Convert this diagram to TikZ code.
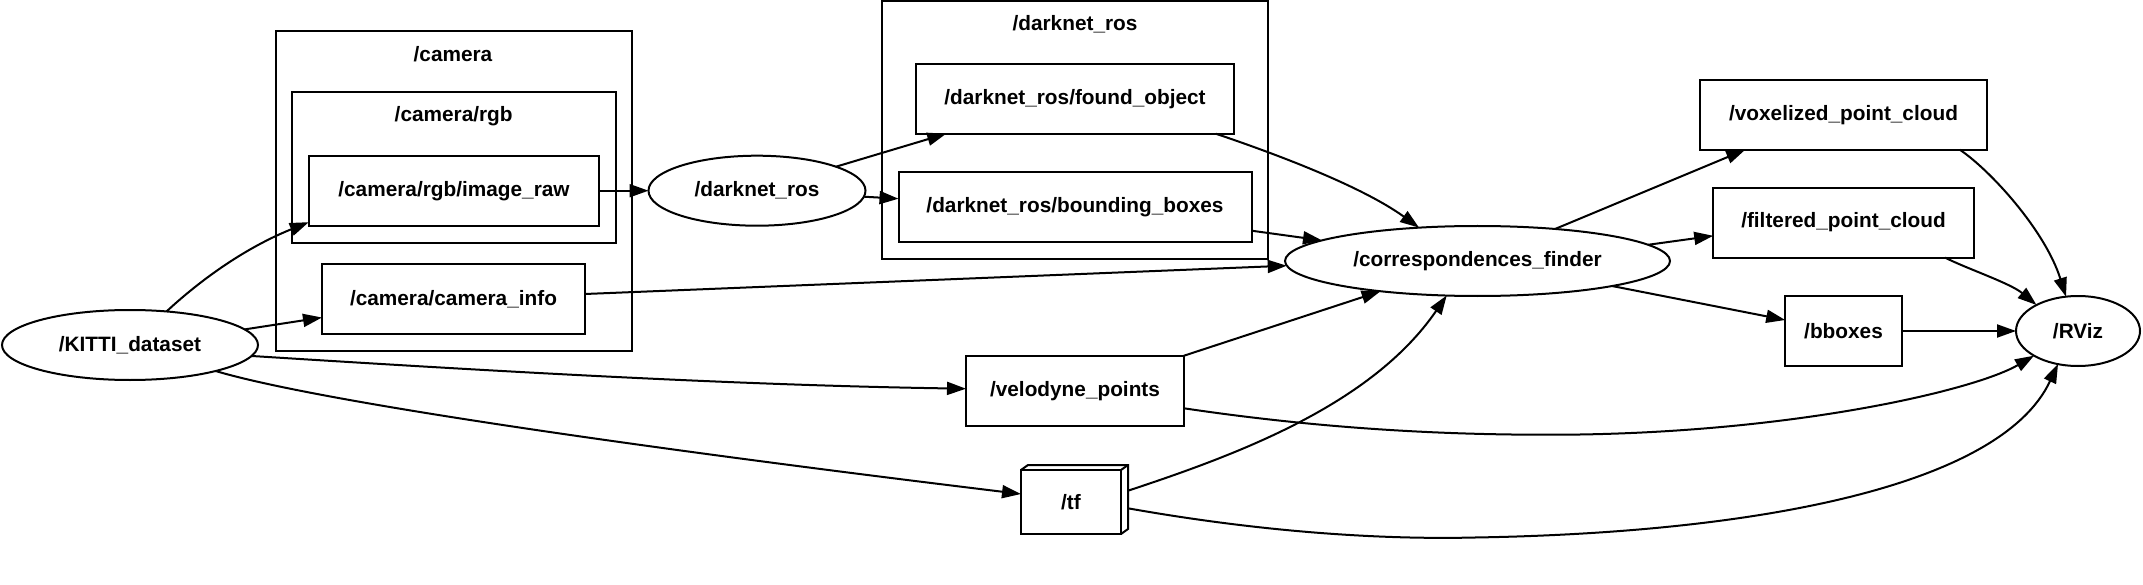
\documentclass[tikz,border=0pt]{standalone}
\usepackage{fontspec}
\setmainfont{Liberation Sans}
\usetikzlibrary{shapes.geometric,arrows.meta,calc}
\begin{document}
\begin{tikzpicture}[x=1pt,y=-1pt,
  every node/.style={font=\fontsize{20.8}{25}\selectfont\bfseries},
  base/.style={draw=black, line width=2pt, inner sep=0pt, outer sep=0pt},
  topic/.style={base, rectangle, minimum height=70pt},
  nodeell/.style={base, ellipse, minimum height=70pt},
  cluster/.style={base, rectangle},
  clabel/.style={inner sep=0pt},
  edge/.style={line width=2pt, -{Triangle[length=19pt,width=13pt]}},
]
\fill[white] (0,0) rectangle (2143,585);
\useasboundingbox (0,0) rectangle (2143,585);

% clusters
\node[cluster, minimum width=356pt, minimum height=320.4pt] (camcl) at (454,190.8) {};
\node[clabel] (camlabel) at (453,54) {/camera};
\node[cluster, minimum width=324.5pt, minimum height=150.5pt] (rgbcl) at (453.75,167.75) {};
\node[clabel] (rgblabel) at (453.7,116) {/camera/rgb};
\node[cluster, minimum width=386pt, minimum height=257.5pt] (darkcl) at (1075,129.85) {};
\node[clabel] (darklabel) at (1075,24.3) {/darknet\_ros};

% nodes
\node[nodeell, minimum width=256pt] (kitti) at (130,345) {/KITTI\_dataset};
\node[topic, minimum width=290.5pt] (imgraw) at (454,190.7) {/camera/rgb/image\_raw};
\node[topic, minimum width=263pt] (caminfo) at (453.5,299) {/camera/camera\_info};
\node[nodeell, minimum width=217pt] (darknet) at (757,190.7) {/darknet\_ros};
\node[topic, minimum width=317.5pt] (found) at (1075,98.7) {/darknet\_ros/found\_object};
\node[topic, minimum width=353pt] (bboxd) at (1075,206.7) {/darknet\_ros/bounding\_boxes};
\node[topic, minimum width=218pt] (velo) at (1075,390.7) {/velodyne\_points};
\node[base, rectangle, minimum width=100pt, minimum height=64pt] (tf) at (1071,502) {/tf};
\draw[line width=2pt] (tf.north west) -- ++(7,-5) -- ++(100,0) -- ++(0,64) -- (tf.south east);
\draw[line width=2pt] (tf.north east) -- ++(7,-5);
\node[nodeell, minimum width=385pt] (corr) at (1477.5,261) {/correspondences\_finder};
\node[topic, minimum width=286.5pt] (voxel) at (1843.5,114.7) {/voxelized\_point\_cloud};
\node[topic, minimum width=260.6pt] (filt) at (1843.5,222.6) {/filtered\_point\_cloud};
\node[topic, minimum width=116.6pt] (bbx) at (1843.5,331) {/bboxes};
\node[nodeell, minimum width=124pt] (rviz) at (2078,331) {/RViz};

% edges
\draw[edge] ($(kitti)+(36.5,-33.5)$) .. controls (195,285) and (240,250) .. ($(imgraw.south west)+(0,-3.5)$);
\draw[edge] ($(kitti)+(114.6,-15.6)$) -- ($(caminfo.west)+(0,18.5)$);
\draw[edge] ($(kitti)+(122,11)$) .. controls (490,371) and (730,385) .. ($(velo.west)+(0,-2)$);
\draw[edge] ($(kitti)+(85.6,26)$) .. controls (330,405) and (700,455) .. ($(tf.west)+(0,-8)$);
\draw[edge] (imgraw) -- (darknet);
\draw[edge] ($(darknet)+(79,-24)$) -- ($(found.south west)+(30,0)$);
\draw[edge] ($(darknet)+(107,6)$) -- ($(bboxd.west)+(0,-8)$);
\draw[edge] ($(found.south east)+(-18,0)$) .. controls (1270,152) and (1360,185) .. ($(corr)+(-58.5,-33.4)$);
\draw[edge] ($(bboxd.east)+(0,24)$) -- ($(corr)+(-155.5,-20.6)$);
\draw[edge] ($(caminfo.east)+(0,-5)$) -- ($(corr)+(-190.8,4.7)$);
\draw[edge] (velo.north east) -- ($(corr)+(-96.9,30.2)$);
\draw[edge] ($(tf.east)+(7,-11.3)$) .. controls (1238,454.4) and (1371.7,404.75) .. ($(corr)+(-30.8,34.5)$);
\draw[edge] ($(corr)+(77.5,-32)$) -- ($(voxel.south west)+(45,0)$);
\draw[edge] ($(corr)+(170.5,-16.2)$) -- ($(filt.west)+(0,13.2)$);
\draw[edge] ($(corr)+(134.5,25)$) -- ($(bbx.west)+(0,-11)$);
\draw[edge] ($(voxel.south east)+(-27,0)$) .. controls (1990,170) and (2045,230) .. ($(rviz)+(-12,-34.3)$);
\draw[edge] ($(filt.south east)+(-28.7,0)$) .. controls (1965,268) and (2010,283) .. ($(rviz)+(-41.5,-26)$);
\draw[edge] (bbx) -- (rviz);
\draw[edge] ($(velo.east)+(0,17.6)$) .. controls (1330,430) and (1460,436) .. (1580,434.5) .. controls (1800,431) and (1975,390) .. ($(rviz)+(-44,24.7)$);
\draw[edge] ($(tf.east)+(7,6.3)$) .. controls (1250,530) and (1370,540) .. (1475,537.5) .. controls (1750,533) and (2000,488) .. ($(rviz)+(-20,33.1)$);
\end{tikzpicture}
\end{document}
